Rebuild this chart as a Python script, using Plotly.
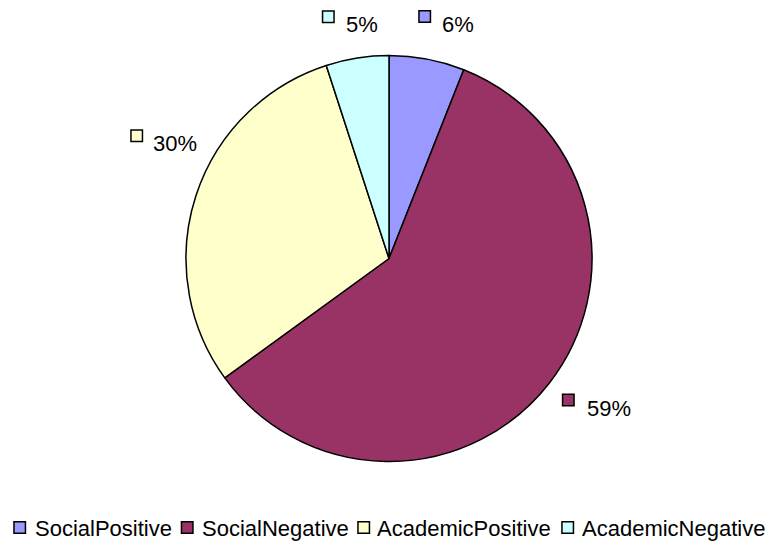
import plotly.graph_objects as go

# Survey comment categories and their shares (%)
categories = ["SocialPositive", "SocialNegative", "AcademicPositive", "AcademicNegative"]
shares = [6, 59, 30, 5]
colors = ["#9999FF", "#993366", "#FFFFCC", "#CCFFFF"]

W, H = 771, 542
FONT = "Liberation Sans, Arial, Helvetica, sans-serif"
FONT_SIZE = 22

# pie centre and radius in page pixels
CX, CY, R = 389, 258.5, 203

# percent label placement per category: (key x, key y, text left x, text mid y)
label_pos = [
    (424.7, 16.5, 441.7, 24.5),
    (568.3, 400.0, 586.7, 408.7),
    (136.7, 135.8, 153.3, 143.8),
    (328.3, 16.7, 345.7, 24.5),
]
# legend placement per category: (key x, text left x)
legend_pos = [(19.7, 35.0), (187.2, 201.7), (363.7, 376.7), (567.7, 581.7)]
LEGEND_KEY_Y, LEGEND_TEXT_Y = 527.5, 528.5
KEY = 11.5  # key square size in px


def fx(x):
    return x / W


def fy(y):
    return 1 - y / H


fig = go.Figure(
    go.Pie(
        labels=categories,
        values=shares,
        sort=False,
        direction="clockwise",
        rotation=0,
        marker=dict(colors=colors, line=dict(color="black", width=1.5)),
        textinfo="none",
        hoverinfo="label+percent",
        showlegend=False,
        domain=dict(x=[fx(CX - R), fx(CX + R)], y=[fy(CY + R), fy(CY - R)]),
    )
)

shapes = []
annotations = []


def key_square(x, y, color):
    h = KEY / 2
    return dict(
        type="rect", xref="paper", yref="paper",
        x0=fx(x - h), x1=fx(x + h), y0=fy(y + h), y1=fy(y - h),
        fillcolor=color, line=dict(color="black", width=1.5),
    )


def text_at(x, y, txt):
    return dict(
        text=txt, xref="paper", yref="paper",
        x=fx(x - 2), y=fy(y), xanchor="left", yanchor="middle",
        showarrow=False, font=dict(family=FONT, size=FONT_SIZE, color="black"),
    )


total = sum(shares)
for cat, val, col, (kx, ky, tx, ty) in zip(categories, shares, colors, label_pos):
    shapes.append(key_square(kx, ky, col))
    annotations.append(text_at(tx, ty, f"{round(val / total * 100)}%"))

for cat, col, (kx, tx) in zip(categories, colors, legend_pos):
    shapes.append(key_square(kx, LEGEND_KEY_Y, col))
    annotations.append(text_at(tx, LEGEND_TEXT_Y, cat))

fig.update_layout(
    width=W, height=H,
    margin=dict(l=0, r=0, t=0, b=0),
    paper_bgcolor="white", plot_bgcolor="white",
    font=dict(family=FONT, size=FONT_SIZE, color="black"),
    shapes=shapes,
    annotations=annotations,
)

fig.write_html("out.html")
